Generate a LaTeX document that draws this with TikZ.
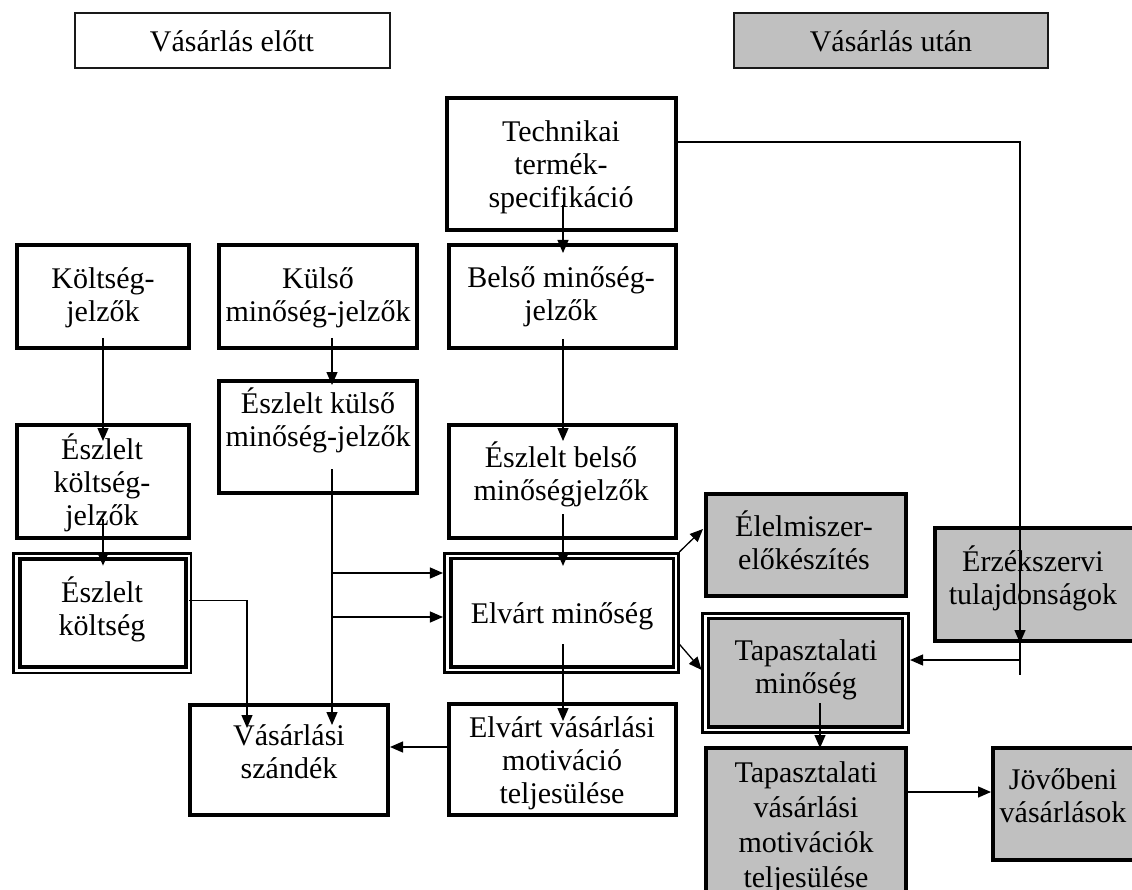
\documentclass[tikz,border=0pt]{standalone}
\usepackage{fontspec}
\setmainfont{Liberation Serif}
\usetikzlibrary{arrows.meta,calc}
\definecolor{boxgray}{HTML}{C0C0C0}

\tikzset{
  x=1pt, y=-1pt,
  thickbox/.style={draw=black, line width=4pt, rectangle, inner sep=0pt},
  thinbox/.style={draw=black!90, line width=1.8pt, rectangle, inner sep=0pt},
  outerline/.style={draw=black, line width=2.7pt, rectangle, inner sep=0pt},
  innerline/.style={draw=black, line width=3.4pt, rectangle, inner sep=0pt},
  grayfill/.style={fill=boxgray},
  boxtext/.style={font=\fontsize{30}{33}\selectfont, align=center, inner sep=0pt},
  conn/.style={line width=1.3pt, draw=black},
  arr/.style={conn, -{Triangle[length=13pt,width=11pt]}},
}

% \mkbox{style}{name}{x1}{y1}{x2}{y2}: rectangle through the given corners
\newcommand\mkbox[6]{%
  \node[#1, minimum width={#5pt-#3pt}, minimum height={#6pt-#4pt}]
    (#2) at ({(#3+#5)/2},{(#4+#6)/2}) {};}

\begin{document}
\begin{tikzpicture}
\useasboundingbox (0,0) rectangle (1132,890);
\fill[white] (0,0) rectangle (1132,890);

% headers
\mkbox{thinbox}{hdrL}{75}{13}{390}{68}
\mkbox{thinbox,grayfill}{hdrR}{734}{13}{1048}{68}

% before purchase
\mkbox{thickbox}{kj}{17}{245}{189}{348}
\mkbox{thickbox}{kmj}{219}{245}{417}{348}
\mkbox{thickbox}{ekmj}{219}{381}{417}{493}
\mkbox{thickbox}{ekj}{17}{425}{189}{538}
\mkbox{outerline}{ek}{13.5}{553.5}{191}{673}
\mkbox{innerline}{ek-in}{20}{559}{186}{667}
\mkbox{thickbox}{vsz}{190}{705}{388}{815}
\mkbox{thickbox}{tts}{447}{98}{676}{230}
\mkbox{thickbox}{bmj}{449}{245}{676}{348}
\mkbox{thickbox}{ebm}{449}{425}{676}{538}
\mkbox{outerline}{em}{444.3}{553.3}{678.7}{672.7}
\mkbox{innerline}{em-in}{451}{558.7}{673.7}{667}
\mkbox{thickbox}{evm}{449}{704}{676}{815}

% after purchase
\mkbox{thickbox,grayfill}{ele}{706}{494}{906}{596}
\mkbox{thickbox,grayfill}{erz}{935}{528}{1140}{641}
\mkbox{outerline}{tm}{702.3}{613.3}{908.7}{732.7}
\mkbox{innerline,grayfill}{tm-in}{708.7}{618.7}{902.7}{727}
\mkbox{thickbox,grayfill}{tvm}{706}{748}{906}{904}
\mkbox{thickbox,grayfill}{jv}{993}{748}{1140}{860}

% texts
\node[boxtext] (hdrL-t) at (232,45.4) {\strut Vásárlás előtt};
\node[boxtext] (hdrR-t) at (891,45.4) {\strut Vásárlás után};
\node[boxtext] (kj-t) at (103,298) {\strut Költség-\\\strut jelzők};
\node[boxtext] (kmj-t) at (318,298) {\strut Külső\\\strut minőség-jelzők};
\node[boxtext] (ekmj-t) at (318,422) {\strut Észlelt külső\\\strut minőség-jelzők};
\node[boxtext] (ekj-t) at (102,485) {\strut Észlelt\\\strut költség-\\\strut jelzők};
\node[boxtext] (ek-t) at (102,611) {\strut Észlelt\\\strut költség};
\node[boxtext] (vsz-t) at (289,755) {\strut Vásárlási\\\strut szándék};
\node[boxtext] (tts-t) at (561,168) {\strut Technikai\\\strut termék-\\\strut specifikáció};
\node[boxtext] (bmj-t) at (561,297) {\strut Belső minőség-\\\strut jelzők};
\node[boxtext] (ebm-t) at (561,476.5) {\strut Észlelt belső\\\strut minőségjelzők};
\node[boxtext] (em-t) at (562,617) {\strut Elvárt minőség};
\node[boxtext] (evm-t) at (562,763.5) {\strut Elvárt vásárlási\\\strut motiváció\\\strut teljesülése};
\node[boxtext] (ele-t) at (804,545) {\strut Élelmiszer-\\\strut előkészítés};
\node[boxtext] (erz-t) at (1033,580.5) {\strut Érzékszervi\\\strut tulajdonságok};
\node[boxtext] (tm-t) at (806,670.5) {\strut Tapasztalati\\\strut minőség};
\node[boxtext, font=\fontsize{30}{35}\selectfont] (tvm-t) at (806,827.5)
  {\strut Tapasztalati\\\strut vásárlási\\\strut motivációk\\\strut teljesülése};
\node[boxtext] (jv-t) at (1063,799) {\strut Jövőbeni\\\strut vásárlások};

% columns the vertical connectors run along
\coordinate (colA) at (103,0);
\coordinate (colB) at (332,0);
\coordinate (colC) at (563,0);
\coordinate (colD) at (820,0);
\coordinate (colE) at (1020,0);

% connectors, before purchase
\draw[arr] ($(colA |- kj.south)+(0,-12)$) -- ($(colA |- ekj.north)+(0,18)$);
\draw[arr] ($(colA |- ekj.south)+(0,-21)$) -- ($(colA |- ek.north)+(0,13.5)$);
\draw[arr] ($(colB |- kmj.south)+(0,-12)$) -- ($(colB |- ekmj.north)+(0,6)$);
\draw[arr] ($(colB |- ekmj.south)+(0,-26)$) -- ($(colB |- vsz.north)+(0,22)$);
\coordinate (b1) at ($(colB |- ekmj.south)+(0,78)$);
\coordinate (b2) at ($(colB |- ekmj.south)+(0,122)$);
\draw[arr] (b1) -- (b1 -| em.west);
\draw[arr] (b2) -- (b2 -| em.west);
\draw[arr] ($(ek.east)+(-3,-13)$) -| ($(vsz.north)+(-42,25)$);
\coordinate (ev) at ($(evm.west)+(0,-12.5)$);
\draw[arr] (ev) -- (ev -| vsz.east);
\draw[arr] ($(colC |- tts.south)+(0,-27)$) -- ($(colC |- bmj.north)+(0,10)$);
\draw[arr] ($(colC |- bmj.south)+(0,-11)$) -- ($(colC |- ebm.north)+(0,18)$);
\draw[arr] ($(colC |- ebm.south)+(0,-26)$) -- ($(colC |- em.north)+(0,14)$);
\draw[arr] ($(colC |- em.south)+(0,-30)$) -- ($(colC |- evm.north)+(0,19)$);

% connectors, after purchase
\draw[arr] ($(em.north east)+(-0.7,0)$) -- ($(ele.west)+(-1,-16)$);
\draw[arr] ($(em.east)+(-1.7,30)$) -- ($(tm.west)+(0.7,-3)$);
\draw[arr] ($(tts.east)+(0,-22)$) -| (colE |- erz.south);
\draw[conn] (colE |- erz.south) -- ($(colE |- erz.south)+(0,32)$);
\coordinate (tj) at ($(colE |- erz.south)+(0,17)$);
\draw[arr] (tj) -- (tj -| tm.east);
\draw[arr] ($(colD |- tm.south)+(0,-30.7)$) -- ($(colD |- tvm.north)+(0,2)$);
\coordinate (tv) at ($(tvm.east)+(0,-34)$);
\draw[arr] (tv) -- (tv -| jv.west);
\end{tikzpicture}
\end{document}
